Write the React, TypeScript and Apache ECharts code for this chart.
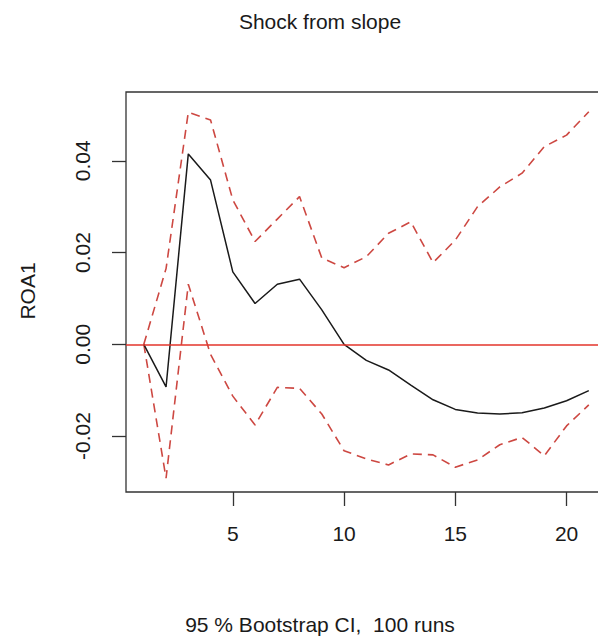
import React, { useEffect, useRef } from "react";
import * as echarts from "echarts";

const steps = [1,2,3,4,5,6,7,8,9,10,11,12,13,14,15,16,17,18,19,20,21];
const irf = [0, -0.0093, 0.0415, 0.0358, 0.0158, 0.0089, 0.0131, 0.0142, 0.0075, 0.0, -0.0035, -0.0056, -0.0089, -0.0121, -0.0142, -0.0150, -0.0152, -0.0149, -0.0139, -0.0123, -0.0101];
const upper = [0, 0.0165, 0.0506, 0.0489, 0.0315, 0.0224, 0.0273, 0.0322, 0.0188, 0.0167, 0.0191, 0.0242, 0.0267, 0.0178, 0.0227, 0.0300, 0.0343, 0.0373, 0.0431, 0.0456, 0.0507];
const lower = [0, -0.0292, 0.0131, -0.0022, -0.0113, -0.0176, -0.0094, -0.0096, -0.0152, -0.0232, -0.0250, -0.0263, -0.0239, -0.0241, -0.0268, -0.0252, -0.0219, -0.0203, -0.0243, -0.0178, -0.0132];
const xTicks = [5, 10, 15, 20];
const yTicks = [-0.02, 0, 0.02, 0.04];

const FONT = "'Liberation Sans', Arial, Helvetica, sans-serif";
const TXT = "#1a1a1a";

export default function App() {
  const ref = useRef<HTMLDivElement>(null);
  useEffect(() => {
    if (!ref.current) return;
    const chart = echarts.init(ref.current, null, { renderer: "svg" });
    const pairs = (ys: number[]) => steps.map((s, i) => [s, ys[i]]);
    const dashed = { color: "#cd4842", width: 1.6, type: [9, 6] as any };
    chart.setOption({
      animation: false,
      backgroundColor: "#ffffff",
      textStyle: { fontFamily: FONT },
      grid: {
        left: 126, top: 92, width: 480.6, height: 400,
        show: true, borderColor: "#333333", borderWidth: 1.3,
        backgroundColor: "transparent", containLabel: false,
      },
      xAxis: {
        type: "value", min: 0.2, max: 21.8,
        axisLine: { show: false, onZero: false },
        splitLine: { show: false },
        axisTick: { show: true, customValues: xTicks, length: 14, lineStyle: { color: "#333333", width: 1.3 } },
        axisLabel: { customValues: xTicks, margin: 31, fontSize: 21, color: TXT, fontFamily: FONT },
      },
      yAxis: {
        type: "value", min: -0.0322, max: 0.0550,
        axisLine: { show: false, onZero: false },
        splitLine: { show: false },
        axisTick: { show: true, customValues: yTicks, length: 14, lineStyle: { color: "#333333", width: 1.3 } },
        axisLabel: {
          customValues: yTicks, rotate: 90, margin: 33, fontSize: 21, color: TXT, fontFamily: FONT,
          formatter: (v: number) => v.toFixed(2),
        },
      },
      series: [
        {
          type: "line", data: pairs(irf), showSymbol: false, symbol: "none",
          lineStyle: { color: "#1a1a1a", width: 1.5 }, z: 3,
          markLine: {
            silent: true, symbol: "none", label: { show: false },
            lineStyle: { color: "#e3342b", width: 1.5, type: "solid" },
            data: [{ yAxis: 0 }],
          },
        },
        { type: "line", data: pairs(upper), showSymbol: false, symbol: "none", lineStyle: dashed, z: 2 },
        { type: "line", data: pairs(lower), showSymbol: false, symbol: "none", lineStyle: dashed, z: 2 },
      ],
      graphic: [
        { type: "text", x: 320, y: 21, style: { text: "Shock from slope", fontSize: 21, fill: TXT, fontFamily: FONT, textAlign: "center", textVerticalAlign: "middle" } },
        { type: "text", x: 320, y: 624, style: { text: "95 % Bootstrap CI,  100 runs", fontSize: 21, fill: TXT, fontFamily: FONT, textAlign: "center", textVerticalAlign: "middle" } },
        { type: "text", x: 27, y: 291, rotation: Math.PI / 2, style: { text: "ROA1", fontSize: 21, fill: TXT, fontFamily: FONT, textAlign: "center", textVerticalAlign: "middle" } },
      ],
    });
    return () => chart.dispose();
  }, []);
  return (
    <div style={{ position: "fixed", left: 0, top: 0, width: 598, height: 638, overflow: "hidden" }}>
      <div ref={ref} style={{ width: 640, height: 638 }} />
    </div>
  );
}
